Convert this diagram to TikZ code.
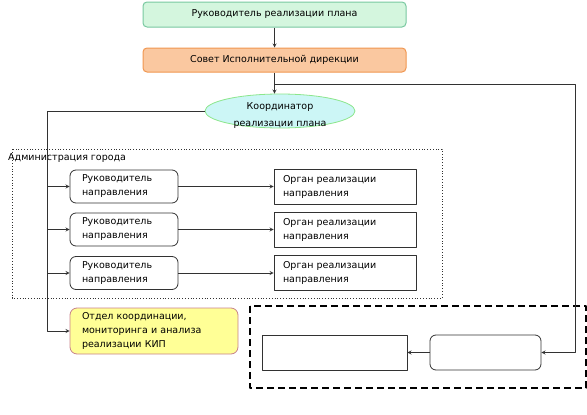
\documentclass[tikz,border=0pt]{standalone}
\usepackage{fontspec}
\setmainfont{DejaVu Sans}
\usetikzlibrary{shapes.geometric}

\definecolor{headfill}{RGB}{212,246,222}
\definecolor{headline}{RGB}{120,200,160}
\definecolor{councilfill}{RGB}{250,200,160}
\definecolor{councilline}{RGB}{240,150,80}
\definecolor{coordfill}{RGB}{204,246,246}
\definecolor{coordline}{RGB}{140,230,140}
\definecolor{deptfill}{RGB}{255,255,150}
\definecolor{deptline}{RGB}{200,130,140}
\definecolor{wire}{RGB}{50,50,50}

\tikzset{
  txt/.style={font=\fontsize{9.5}{14}\selectfont},
  topbox/.style={txt, draw, rounded corners=4pt, line width=1pt, minimum width=263pt, inner sep=0pt, align=center},
  leadbox/.style={txt, draw=wire, rounded corners=6pt, line width=0.8pt, minimum height=33pt, text width=84pt, inner xsep=12pt, align=left},
  organbox/.style={txt, draw=wire, line width=0.8pt, minimum height=35pt, text width=124pt, inner xsep=9pt, align=left},
  link/.style={draw=wire, line width=0.8pt, ->},
}

\begin{document}
\begin{tikzpicture}[>=stealth, x=1pt, y=-1pt, line join=round]
  \useasboundingbox (0,0) rectangle (587,415);

  % Top of the chain
  \node[topbox, fill=headfill, draw=headline, minimum height=25pt] (head) at (274.5,14.5) {Руководитель реализации плана};
  \node[topbox, fill=councilfill, draw=councilline, minimum height=24pt] (council) at (274.5,60) {Совет Исполнительной дирекции};
  \node[ellipse, draw=coordline, fill=coordfill, line width=0.8pt, minimum width=150pt, minimum height=34pt, inner sep=0pt] (coord) at (280,111) {};
  \node[txt, align=center, inner sep=0pt] (coordtext) at (280,116) {Координатор\\[3pt]реализации плана};

  % City administration frame
  \draw[wire, dotted, line width=0.8pt] (12,149) rectangle (442,298);
  \node[txt, anchor=west, inner sep=0pt] (admin) at (8,158) {Администрация города};

  % Three directions
  \foreach \i/\y in {1/186.5, 2/229.5, 3/273} {
    \node[leadbox] (lead\i) at (124,\y) {Руководитель\\направления};
    \node[organbox] (organ\i) at (345,\y) {Орган реализации\\направления};
  }

  % Monitoring department
  \node[txt, draw=deptline, fill=deptfill, rounded corners=7pt, line width=0.8pt, minimum width=168pt, minimum height=46pt, text width=144pt, inner xsep=12pt, align=left] (dept) at (154,331) {Отдел координации,\\мониторинга и анализа\\реализации КИП};

  % Dashed group with two empty boxes
  \draw[black, dashed, dash pattern=on 7pt off 4pt, line width=1.2pt] (250,306) rectangle (586,388);
  \node[draw=wire, line width=0.8pt, minimum width=145pt, minimum height=35pt] (blankA) at (334.5,352.5) {};
  \node[draw=wire, rounded corners=6pt, line width=0.8pt, minimum width=111pt, minimum height=35pt] (blankB) at (485.5,352.5) {};

  % Connectors
  \coordinate (split) at (274.5,84);
  \coordinate (turn) at (575,84);
  \coordinate (bus) at (47,331);
  \draw[link] (head) -- (council);
  \draw[link] (council.south) -- (council.south |- coord.north);
  \draw[link] (split) -- (turn) |- (blankB.east);
  \draw[link] (blankB.west) -- (blankA.east);
  \draw[link] (coord.west) -| (bus) -- (dept.west);
  \foreach \i in {1,2,3} {
    \draw[link] (bus |- lead\i.west) -- (lead\i.west);
    \draw[link] (lead\i.east) -- (lead\i.east -| organ\i.west);
  }
\end{tikzpicture}
\end{document}
